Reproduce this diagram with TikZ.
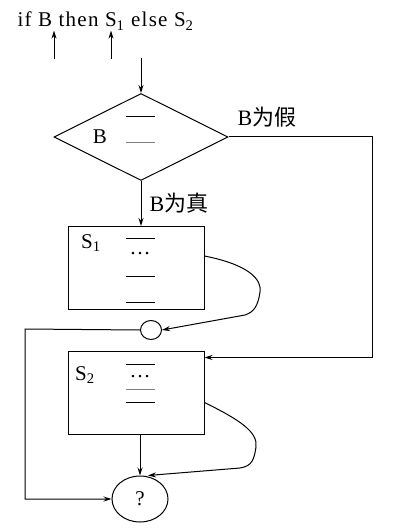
\documentclass[tikz,border=0pt]{standalone}
\usepackage{fontspec}
\setmainfont{Liberation Serif}
\newfontfamily\zhfont{Noto Sans CJK SC}
\usetikzlibrary{shapes.geometric, arrows.meta, positioning, calc}

\begin{document}
\begin{tikzpicture}[x=1pt,y=-1pt,line width=1pt,
  >={Stealth[length=8pt,width=5pt]},
  txt/.style={inner sep=0pt,font=\fontsize{21}{24}\selectfont},
  zh/.style={inner sep=0pt,font=\fontsize{22}{24}\selectfont},
  block/.style={draw,rectangle,minimum width=136pt,minimum height=83pt,inner sep=0pt},
  test/.style={draw,diamond,aspect=2,minimum width=174pt,minimum height=87pt,inner sep=0pt},
  merge/.style={draw,ellipse,inner sep=0pt}]
\useasboundingbox (0,0) rectangle (405,529);
% statement and flow graph
\node[txt,anchor=base west] (code) at (17,27)
  {\addfontfeature{LetterSpace=6}if B then S\textsubscript{1} else S\textsubscript{2}};
\node[test] (dia) at (141,137) {};
\node[block] (s1) at (136,268) {};
\node[block] (s2) at (136,392.5) {};
\node[merge,minimum width=21pt,minimum height=19pt] (c) at (151,330) {};
\node[merge,txt,draw,minimum width=56pt,minimum height=46pt] (q) at (140,499) {?};
\coordinate (inB) at (54,59);
\coordinate (inS) at (111,59);
\coordinate (start) at (141,58);
\coordinate (fr) at (372,137);
\coordinate (lf) at (25,329);
% contents of the boxes
\node[txt] (b) at (100,137) {B};
\draw (126,117) -- (155,117);
\draw[black!50] (126,143) -- (155,143);
\node[txt] (s1l) at (91,243) {S\textsubscript{1}};
\foreach \y in {238,276,302} \draw (126,\y) -- (155,\y);
\node[txt] (d1) at (140,254) {\dots};
\node[txt] (s2l) at (85,375) {S\textsubscript{2}};
\foreach \y in {364,402} \draw (126,\y) -- (155,\y);
\draw[black!50] (126,389) -- (155,389);
\node[txt] (d2) at (140,377) {\dots};
% arrows
\draw[->] (inB) -- (inB |- code.south);
\draw[->] (inS) -- (inS |- code.south);
\draw[->] (start) -- (dia.north);
\draw[->] (dia.east) -- (fr) |- ([yshift=-7pt]s2.north east);
\node[zh] (no) at (267,117) {B{\zhfont 为假}};
\draw[->] (dia.south) -- (dia.south |- s1.north) node[zh,midway,right=8pt] (yes) {B{\zhfont 为真}};
\draw[->] ([yshift=12pt]s1.east) .. controls (250,265) and (262,280) .. (260,292)
  .. controls (258,306) and (254,312) .. (245,315) -- (c.east);
\draw[->] ([yshift=-10pt]s2.east) .. controls (240,420) and (258,432) .. (256,447)
  .. controls (254,460) and (252,466) .. (240,468) -- ([xshift=8pt]q.north);
\draw[->] (q.north |- s2.south) -- (q.north);
\draw[->] (c.west) -- (lf) |- (q.west);
\end{tikzpicture}
\end{document}
